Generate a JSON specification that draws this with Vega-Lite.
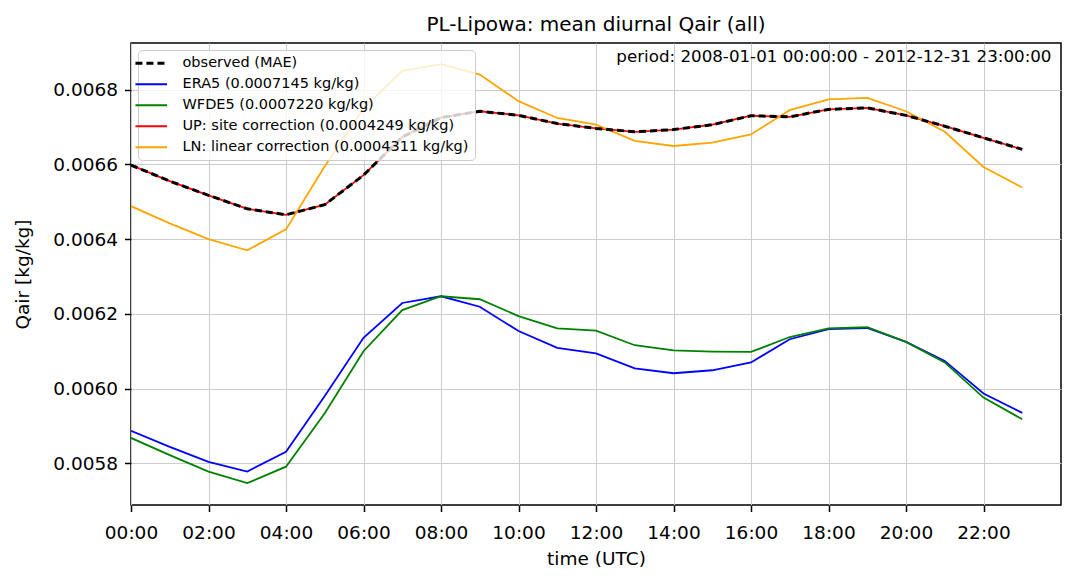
{
  "$schema": "https://vega.github.io/schema/vega-lite/v6.json",
  "width": 930,
  "height": 462,
  "autosize": {"type": "none"},
  "padding": {"left": 131, "top": 43, "right": 14, "bottom": 78},
  "config": {
    "font": "DejaVu Sans",
    "view": {"stroke": "#000000", "strokeWidth": 1.5},
    "axis": {
      "domain": false,
      "labelFont": "DejaVu Sans",
      "titleFont": "DejaVu Sans",
      "labelFontSize": 18.5,
      "titleFontSize": 18.5,
      "titleFontWeight": "normal",
      "labelColor": "#000000",
      "titleColor": "#000000",
      "tickColor": "#000000",
      "tickWidth": 1.5,
      "tickSize": 6.5,
      "gridColor": "#cccccc",
      "gridWidth": 1
    },
    "title": {"font": "DejaVu Sans", "fontSize": 20, "fontWeight": "normal", "color": "#000000", "offset": 8}
  },
  "title": {"text": "PL-Lipowa: mean diurnal Qair (all)", "anchor": "middle"},
  "layer": [
    {
      "data": {"name": "qair"},
      "transform": [{"filter": "datum.series !== 'observed (MAE)'"}],
      "mark": {"type": "line", "strokeWidth": 1.8, "clip": true},
      "encoding": {
        "x": {
          "field": "hour", "type": "quantitative",
          "scale": {"domain": [0, 24], "nice": false, "zero": false},
          "axis": {
            "title": "time (UTC)",
            "values": [0, 2, 4, 6, 8, 10, 12, 14, 16, 18, 20, 22],
            "labelExpr": "(datum.value < 10 ? '0' : '') + datum.value + ':00'",
            "labelPadding": 12,
            "titlePadding": 7,
            "labelFlush": false,
            "labelOverlap": false
          }
        },
        "y": {
          "field": "qair", "type": "quantitative",
          "scale": {"domain": [0.0056885, 0.0069246], "nice": false, "zero": false},
          "axis": {
            "title": "Qair [kg/kg]",
            "values": [0.0058, 0.006, 0.0062, 0.0064, 0.0066, 0.0068],
            "format": ".4f",
            "labelPadding": 7,
            "titlePadding": 20,
            "labelOverlap": false
          }
        },
        "color": {
          "field": "series", "type": "nominal",
          "scale": {
            "domain": ["observed (MAE)", "ERA5 (0.0007145 kg/kg)", "WFDE5 (0.0007220 kg/kg)", "UP: site correction (0.0004249 kg/kg)", "LN: linear correction (0.0004311 kg/kg)"],
            "range": ["#000000", "#0000ff", "#008000", "#ff0000", "#ffa500"]
          },
          "legend": {
            "title": null,
            "orient": "top-left",
            "offset": 7,
            "padding": 6,
            "fillColor": "rgba(255,255,255,0.8)",
            "strokeColor": "#cccccc",
            "cornerRadius": 4,
            "symbolType": "stroke",
            "symbolSize": 1000,
            "symbolStrokeWidth": 1.8,
            "labelFontSize": 14.5,
            "labelFont": "DejaVu Sans",
            "labelColor": "#000000",
            "labelLimit": 0,
            "labelOffset": 24,
            "rowPadding": 6,
            "encode": {
              "symbols": {
                "update": {
                  "strokeDash": {"signal": "datum.value === 'observed (MAE)' ? [7, 4] : [1, 0]"},
                  "strokeWidth": {"signal": "datum.value === 'observed (MAE)' ? 3 : 1.8"}
                }
              }
            }
          }
        }
      }
    },
    {
      "data": {"name": "qair"},
      "transform": [{"filter": "datum.series === 'observed (MAE)'"}],
      "mark": {"type": "line", "strokeWidth": 3, "strokeDash": [7, 4], "clip": true},
      "encoding": {
        "x": {"field": "hour", "type": "quantitative"},
        "y": {"field": "qair", "type": "quantitative"},
        "color": {"field": "series", "type": "nominal"}
      }
    },
    {
      "data": {"values": [{"label": "period: 2008-01-01 00:00:00 - 2012-12-31 23:00:00"}]},
      "mark": {"type": "text", "align": "right", "baseline": "alphabetic", "dx": -9.5, "dy": 18.5, "fontSize": 16.7, "font": "DejaVu Sans", "color": "#000000"},
      "encoding": {
        "x": {"datum": 24, "type": "quantitative"},
        "y": {"datum": 0.0069246, "type": "quantitative"},
        "text": {"field": "label"}
      }
    }
  ],
  "datasets": {
    "qair": [
      {"hour": 0, "series": "observed (MAE)", "qair": 0.006598},
      {"hour": 1, "series": "observed (MAE)", "qair": 0.006555},
      {"hour": 2, "series": "observed (MAE)", "qair": 0.006517},
      {"hour": 3, "series": "observed (MAE)", "qair": 0.006481},
      {"hour": 4, "series": "observed (MAE)", "qair": 0.006465},
      {"hour": 5, "series": "observed (MAE)", "qair": 0.006492},
      {"hour": 6, "series": "observed (MAE)", "qair": 0.006571},
      {"hour": 7, "series": "observed (MAE)", "qair": 0.006673},
      {"hour": 8, "series": "observed (MAE)", "qair": 0.006725},
      {"hour": 9, "series": "observed (MAE)", "qair": 0.006742},
      {"hour": 10, "series": "observed (MAE)", "qair": 0.006731},
      {"hour": 11, "series": "observed (MAE)", "qair": 0.006709},
      {"hour": 12, "series": "observed (MAE)", "qair": 0.006696},
      {"hour": 13, "series": "observed (MAE)", "qair": 0.006687},
      {"hour": 14, "series": "observed (MAE)", "qair": 0.006693},
      {"hour": 15, "series": "observed (MAE)", "qair": 0.006706},
      {"hour": 16, "series": "observed (MAE)", "qair": 0.00673},
      {"hour": 17, "series": "observed (MAE)", "qair": 0.006727},
      {"hour": 18, "series": "observed (MAE)", "qair": 0.006747},
      {"hour": 19, "series": "observed (MAE)", "qair": 0.006751},
      {"hour": 20, "series": "observed (MAE)", "qair": 0.006731},
      {"hour": 21, "series": "observed (MAE)", "qair": 0.006702},
      {"hour": 22, "series": "observed (MAE)", "qair": 0.006671},
      {"hour": 23, "series": "observed (MAE)", "qair": 0.00664},
      {"hour": 0, "series": "ERA5 (0.0007145 kg/kg)", "qair": 0.005887},
      {"hour": 1, "series": "ERA5 (0.0007145 kg/kg)", "qair": 0.005844},
      {"hour": 2, "series": "ERA5 (0.0007145 kg/kg)", "qair": 0.005804},
      {"hour": 3, "series": "ERA5 (0.0007145 kg/kg)", "qair": 0.005778},
      {"hour": 4, "series": "ERA5 (0.0007145 kg/kg)", "qair": 0.005831},
      {"hour": 5, "series": "ERA5 (0.0007145 kg/kg)", "qair": 0.00598},
      {"hour": 6, "series": "ERA5 (0.0007145 kg/kg)", "qair": 0.006136},
      {"hour": 7, "series": "ERA5 (0.0007145 kg/kg)", "qair": 0.006229},
      {"hour": 8, "series": "ERA5 (0.0007145 kg/kg)", "qair": 0.006247},
      {"hour": 9, "series": "ERA5 (0.0007145 kg/kg)", "qair": 0.006219},
      {"hour": 10, "series": "ERA5 (0.0007145 kg/kg)", "qair": 0.006154},
      {"hour": 11, "series": "ERA5 (0.0007145 kg/kg)", "qair": 0.006109},
      {"hour": 12, "series": "ERA5 (0.0007145 kg/kg)", "qair": 0.006094},
      {"hour": 13, "series": "ERA5 (0.0007145 kg/kg)", "qair": 0.006054},
      {"hour": 14, "series": "ERA5 (0.0007145 kg/kg)", "qair": 0.006041},
      {"hour": 15, "series": "ERA5 (0.0007145 kg/kg)", "qair": 0.006049},
      {"hour": 16, "series": "ERA5 (0.0007145 kg/kg)", "qair": 0.00607},
      {"hour": 17, "series": "ERA5 (0.0007145 kg/kg)", "qair": 0.006132},
      {"hour": 18, "series": "ERA5 (0.0007145 kg/kg)", "qair": 0.006159},
      {"hour": 19, "series": "ERA5 (0.0007145 kg/kg)", "qair": 0.006162},
      {"hour": 20, "series": "ERA5 (0.0007145 kg/kg)", "qair": 0.006125},
      {"hour": 21, "series": "ERA5 (0.0007145 kg/kg)", "qair": 0.006074},
      {"hour": 22, "series": "ERA5 (0.0007145 kg/kg)", "qair": 0.005987},
      {"hour": 23, "series": "ERA5 (0.0007145 kg/kg)", "qair": 0.005935},
      {"hour": 0, "series": "WFDE5 (0.0007220 kg/kg)", "qair": 0.005868},
      {"hour": 1, "series": "WFDE5 (0.0007220 kg/kg)", "qair": 0.005822},
      {"hour": 2, "series": "WFDE5 (0.0007220 kg/kg)", "qair": 0.005778},
      {"hour": 3, "series": "WFDE5 (0.0007220 kg/kg)", "qair": 0.005747},
      {"hour": 4, "series": "WFDE5 (0.0007220 kg/kg)", "qair": 0.005791},
      {"hour": 5, "series": "WFDE5 (0.0007220 kg/kg)", "qair": 0.005934},
      {"hour": 6, "series": "WFDE5 (0.0007220 kg/kg)", "qair": 0.0061},
      {"hour": 7, "series": "WFDE5 (0.0007220 kg/kg)", "qair": 0.00621},
      {"hour": 8, "series": "WFDE5 (0.0007220 kg/kg)", "qair": 0.006247},
      {"hour": 9, "series": "WFDE5 (0.0007220 kg/kg)", "qair": 0.006239},
      {"hour": 10, "series": "WFDE5 (0.0007220 kg/kg)", "qair": 0.006194},
      {"hour": 11, "series": "WFDE5 (0.0007220 kg/kg)", "qair": 0.006161},
      {"hour": 12, "series": "WFDE5 (0.0007220 kg/kg)", "qair": 0.006155},
      {"hour": 13, "series": "WFDE5 (0.0007220 kg/kg)", "qair": 0.006116},
      {"hour": 14, "series": "WFDE5 (0.0007220 kg/kg)", "qair": 0.006102},
      {"hour": 15, "series": "WFDE5 (0.0007220 kg/kg)", "qair": 0.006099},
      {"hour": 16, "series": "WFDE5 (0.0007220 kg/kg)", "qair": 0.006098},
      {"hour": 17, "series": "WFDE5 (0.0007220 kg/kg)", "qair": 0.006138},
      {"hour": 18, "series": "WFDE5 (0.0007220 kg/kg)", "qair": 0.006161},
      {"hour": 19, "series": "WFDE5 (0.0007220 kg/kg)", "qair": 0.006164},
      {"hour": 20, "series": "WFDE5 (0.0007220 kg/kg)", "qair": 0.006125},
      {"hour": 21, "series": "WFDE5 (0.0007220 kg/kg)", "qair": 0.00607},
      {"hour": 22, "series": "WFDE5 (0.0007220 kg/kg)", "qair": 0.005976},
      {"hour": 23, "series": "WFDE5 (0.0007220 kg/kg)", "qair": 0.005918},
      {"hour": 0, "series": "UP: site correction (0.0004249 kg/kg)", "qair": 0.006598},
      {"hour": 1, "series": "UP: site correction (0.0004249 kg/kg)", "qair": 0.006555},
      {"hour": 2, "series": "UP: site correction (0.0004249 kg/kg)", "qair": 0.006517},
      {"hour": 3, "series": "UP: site correction (0.0004249 kg/kg)", "qair": 0.006481},
      {"hour": 4, "series": "UP: site correction (0.0004249 kg/kg)", "qair": 0.006465},
      {"hour": 5, "series": "UP: site correction (0.0004249 kg/kg)", "qair": 0.006492},
      {"hour": 6, "series": "UP: site correction (0.0004249 kg/kg)", "qair": 0.006571},
      {"hour": 7, "series": "UP: site correction (0.0004249 kg/kg)", "qair": 0.006673},
      {"hour": 8, "series": "UP: site correction (0.0004249 kg/kg)", "qair": 0.006725},
      {"hour": 9, "series": "UP: site correction (0.0004249 kg/kg)", "qair": 0.006742},
      {"hour": 10, "series": "UP: site correction (0.0004249 kg/kg)", "qair": 0.006731},
      {"hour": 11, "series": "UP: site correction (0.0004249 kg/kg)", "qair": 0.006709},
      {"hour": 12, "series": "UP: site correction (0.0004249 kg/kg)", "qair": 0.006696},
      {"hour": 13, "series": "UP: site correction (0.0004249 kg/kg)", "qair": 0.006687},
      {"hour": 14, "series": "UP: site correction (0.0004249 kg/kg)", "qair": 0.006693},
      {"hour": 15, "series": "UP: site correction (0.0004249 kg/kg)", "qair": 0.006706},
      {"hour": 16, "series": "UP: site correction (0.0004249 kg/kg)", "qair": 0.00673},
      {"hour": 17, "series": "UP: site correction (0.0004249 kg/kg)", "qair": 0.006727},
      {"hour": 18, "series": "UP: site correction (0.0004249 kg/kg)", "qair": 0.006747},
      {"hour": 19, "series": "UP: site correction (0.0004249 kg/kg)", "qair": 0.006751},
      {"hour": 20, "series": "UP: site correction (0.0004249 kg/kg)", "qair": 0.006731},
      {"hour": 21, "series": "UP: site correction (0.0004249 kg/kg)", "qair": 0.006702},
      {"hour": 22, "series": "UP: site correction (0.0004249 kg/kg)", "qair": 0.006671},
      {"hour": 23, "series": "UP: site correction (0.0004249 kg/kg)", "qair": 0.00664},
      {"hour": 0, "series": "LN: linear correction (0.0004311 kg/kg)", "qair": 0.006488},
      {"hour": 1, "series": "LN: linear correction (0.0004311 kg/kg)", "qair": 0.006442},
      {"hour": 2, "series": "LN: linear correction (0.0004311 kg/kg)", "qair": 0.0064},
      {"hour": 3, "series": "LN: linear correction (0.0004311 kg/kg)", "qair": 0.00637},
      {"hour": 4, "series": "LN: linear correction (0.0004311 kg/kg)", "qair": 0.006426},
      {"hour": 5, "series": "LN: linear correction (0.0004311 kg/kg)", "qair": 0.006595},
      {"hour": 6, "series": "LN: linear correction (0.0004311 kg/kg)", "qair": 0.00675},
      {"hour": 7, "series": "LN: linear correction (0.0004311 kg/kg)", "qair": 0.00685},
      {"hour": 8, "series": "LN: linear correction (0.0004311 kg/kg)", "qair": 0.006868},
      {"hour": 9, "series": "LN: linear correction (0.0004311 kg/kg)", "qair": 0.00684},
      {"hour": 10, "series": "LN: linear correction (0.0004311 kg/kg)", "qair": 0.006769},
      {"hour": 11, "series": "LN: linear correction (0.0004311 kg/kg)", "qair": 0.006724},
      {"hour": 12, "series": "LN: linear correction (0.0004311 kg/kg)", "qair": 0.006706},
      {"hour": 13, "series": "LN: linear correction (0.0004311 kg/kg)", "qair": 0.006663},
      {"hour": 14, "series": "LN: linear correction (0.0004311 kg/kg)", "qair": 0.006649},
      {"hour": 15, "series": "LN: linear correction (0.0004311 kg/kg)", "qair": 0.006658},
      {"hour": 16, "series": "LN: linear correction (0.0004311 kg/kg)", "qair": 0.00668},
      {"hour": 17, "series": "LN: linear correction (0.0004311 kg/kg)", "qair": 0.006745},
      {"hour": 18, "series": "LN: linear correction (0.0004311 kg/kg)", "qair": 0.006774},
      {"hour": 19, "series": "LN: linear correction (0.0004311 kg/kg)", "qair": 0.006778},
      {"hour": 20, "series": "LN: linear correction (0.0004311 kg/kg)", "qair": 0.006742},
      {"hour": 21, "series": "LN: linear correction (0.0004311 kg/kg)", "qair": 0.006687},
      {"hour": 22, "series": "LN: linear correction (0.0004311 kg/kg)", "qair": 0.006593},
      {"hour": 23, "series": "LN: linear correction (0.0004311 kg/kg)", "qair": 0.006538}
    ]
  }
}
